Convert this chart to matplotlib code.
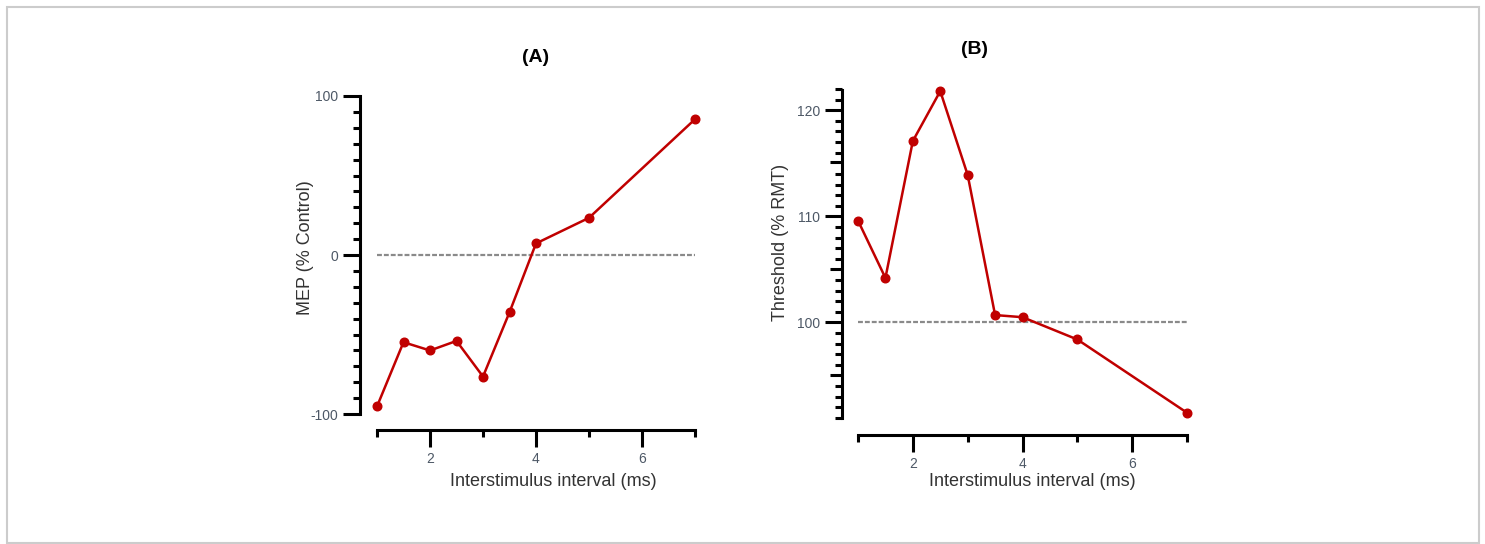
import matplotlib
matplotlib.use("Agg")
import matplotlib.pyplot as plt
from matplotlib.patches import Rectangle

plt.rcParams['font.family'] = ['Liberation Sans', 'DejaVu Sans']
plt.rcParams['axes.unicode_minus'] = False

# Data
isi = [1, 1.5, 2, 2.5, 3, 3.5, 4, 5, 7]
mep = [-95.2, -54.8, -60.0, -54.0, -76.4, -36.0, 7.3, 23.4, 85.4]
threshold = [109.6, 104.2, 117.1, 121.8, 113.9, 100.7, 100.5, 98.4, 91.5]
x_ticks = [2, 4, 6]
a_yticks = [-100, 0, 100]
b_yticks = [100, 110, 120]
b_midticks = [95, 105, 115]
titles = ["(A)", "(B)"]
ylabels = ["MEP (% Control)", "Threshold (% RMT)"]
xlabel = "Interstimulus interval (ms)"
baseline_a = 0
baseline_b = 100

W, H = 1485, 544
fig = plt.figure(figsize=(W / 100, H / 100), dpi=100)

def px_axes(left, right, top, bottom):
    return fig.add_axes([left / W, (H - bottom) / H, (right - left) / W, (bottom - top) / H])

def fig_text(x, y, s, **kw):
    fig.text(x / W, 1 - y / H, s, ha='center', va='center', **kw)

RED = '#c00000'
TICKC = '#4d5866'
LABC = '#333333'

axA = px_axes(360, 695, 96, 430)
axB = px_axes(842, 1187, 89, 435)

def style(ax, xlo, ylim, ybounds, majors, minors):
    ax.set_xlim(xlo, 7)
    ax.set_ylim(*ylim)
    for s in ['top', 'right']:
        ax.spines[s].set_visible(False)
    ax.spines['left'].set_bounds(*ybounds)
    ax.spines['bottom'].set_bounds(1, 7)
    for s in ['left', 'bottom']:
        ax.spines[s].set_linewidth(2.2)
        ax.spines[s].set_color('black')
    ax.set_xticks(x_ticks)
    ax.set_xticks([1, 3, 5, 7], minor=True)
    ax.set_yticks(majors)
    ax.set_yticks(minors, minor=True)
    ax.tick_params(axis='both', which='major', length=12.5, width=2.2, color='black',
                   labelsize=10, labelcolor=TICKC, pad=3)
    ax.tick_params(axis='both', which='minor', length=5, width=2.2, color='black')
    ax.patch.set_alpha(0)

# Panel A
axA.plot([1, 7], [baseline_a, baseline_a], color='#8a8a8a', lw=1.6, ls=(0, (2.2, 0.9)), zorder=1)
axA.plot(isi, mep, color=RED, lw=1.8, marker='o', ms=6.2, zorder=3, clip_on=False)
style(axA, 1 - 17 / 53, (-110, 100), (-100, 100), a_yticks,
      [v for v in range(-100, 101, 10) if v not in a_yticks])

# Panel B
axB.plot([1, 7], [baseline_b, baseline_b], color='#8a8a8a', lw=1.6, ls=(0, (2.2, 0.9)), zorder=1)
axB.plot(isi, threshold, color=RED, lw=1.8, marker='o', ms=6.2, zorder=3, clip_on=False)
minorsB = [v for v in range(91, 123) if v not in b_yticks + b_midticks]
style(axB, 1 - 16 / 54.8, (89.4, 121.9), (91, 121.9), b_yticks, minorsB)

# medium-length ticks at 95, 105, 115 on an overlay axes sharing the same scale
axM = px_axes(842, 1187, 89, 435)
axM.set_ylim(89.4, 121.9)
axM.set_xticks([])
axM.set_yticks(b_midticks)
axM.set_yticklabels([])
axM.tick_params(axis='y', which='major', length=8.5, width=2.2, color='black')
for s in axM.spines.values():
    s.set_visible(False)
axM.patch.set_alpha(0)

# Titles and axis labels
fig_text(536, 58, titles[0], fontsize=14, fontweight='bold', color='black')
fig_text(975, 50, titles[1], fontsize=14, fontweight='bold', color='black')
fig_text(305, 248, ylabels[0], fontsize=13, color=LABC, rotation=90)
fig_text(780, 242, ylabels[1], fontsize=13, color=LABC, rotation=90)
fig_text(553, 482, xlabel, fontsize=13, color=LABC)
fig_text(1032, 482, xlabel, fontsize=13, color=LABC)

fig.patches.append(Rectangle((7 / W, 1 - 543 / H), (1479 - 7) / W, (543 - 7) / H,
                             transform=fig.transFigure, fill=False, edgecolor='#cccccc', lw=1.5))

fig.savefig('out.png', dpi=100, facecolor='white')
